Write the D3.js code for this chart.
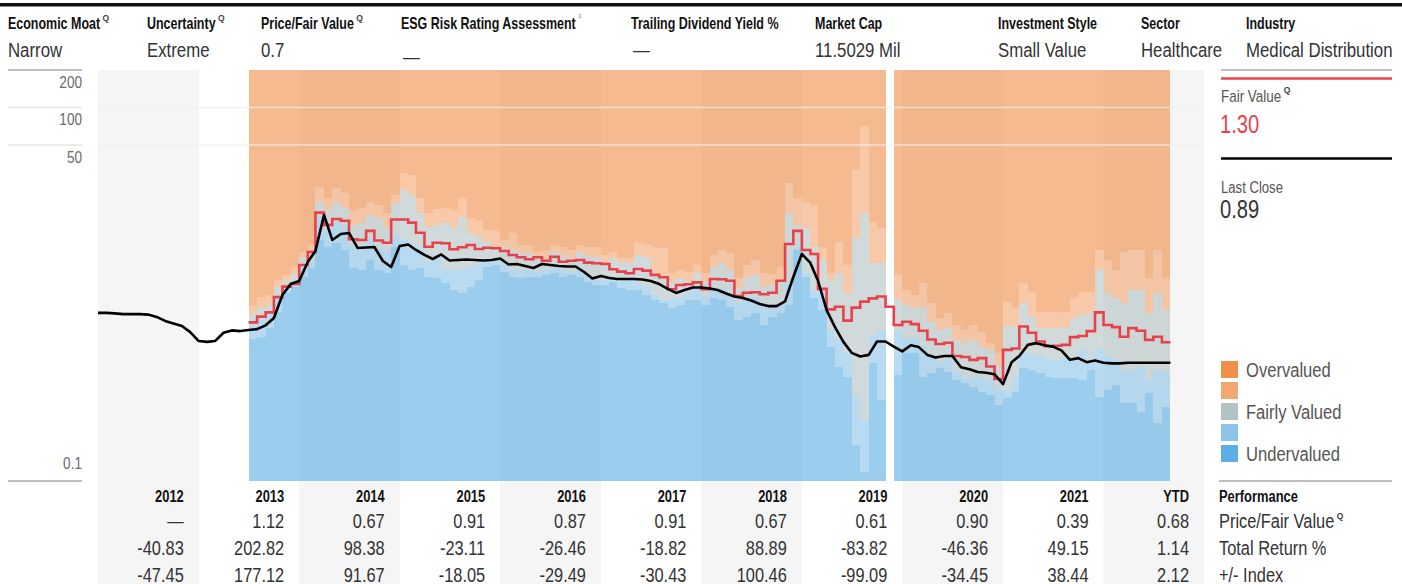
<!DOCTYPE html>
<html>
<head>
<meta charset="utf-8">
<script src="https://cdn.jsdelivr.net/npm/d3@7"></script>
<style>
  html, body { margin: 0; padding: 0; background: #fff; }
  svg { display: block; }
  text { font-family: "Liberation Sans", Arial, sans-serif; }
</style>
</head>
<body>
<svg id="chart" width="1402" height="584"></svg>
<script>
// header strip
const headerLabels = ["Economic Moat", "Uncertainty", "Price/Fair Value", "ESG Risk Rating Assessment",
  "Trailing Dividend Yield %", "Market Cap", "Investment Style", "Sector", "Industry"];
const headerValues = ["Narrow", "Extreme", "0.7", "\u2014", "\u2014", "11.5029 Mil", "Small Value", "Healthcare", "Medical Distribution"];
const headerMarks = ["Q", "Q", "Q", "1", "", "", "", "", ""];

// performance table
const years = ["2012", "2013", "2014", "2015", "2016", "2017", "2018", "2019", "2020", "2021", "YTD"];
const priceFairValue = ["\u2014", "1.12", "0.67", "0.91", "0.87", "0.91", "0.67", "0.61", "0.90", "0.39", "0.68"];
const totalReturn = ["-40.83", "202.82", "98.38", "-23.11", "-26.46", "-18.82", "88.89", "-83.82", "-46.36", "49.15", "1.14"];
const vsIndex = ["-47.45", "177.12", "91.67", "-18.05", "-29.49", "-30.43", "100.46", "-99.09", "-34.45", "38.44", "2.12"];
const rowLabels = ["Price/Fair Value", "Total Return %", "+/- Index"];

const yTicks = [200, 100, 50, 0.1];
const legendLabels = ["Overvalued", "", "Fairly Valued", "", "Undervalued"];

// monthly close, from Jan 2012
const priceStart = "2012-01";
const closePrice = [
  2.24, 2.24, 2.22, 2.19, 2.19, 2.19, 2.17, 2.08, 1.93, 1.84, 1.76, 1.57,
  1.33, 1.31, 1.33, 1.55, 1.62, 1.60, 1.63, 1.66, 1.78, 2.04, 3.12, 3.82,
  4.04, 5.74, 7.04, 13.7, 8.63, 9.64, 9.82, 7.44, 7.51, 7.58, 5.85, 5.23,
  7.72, 7.94, 7.17, 6.54, 6.07, 6.60, 5.90, 5.96, 6.01, 5.96, 5.90, 5.96,
  6.13, 5.48, 5.53, 5.33, 5.14, 5.53, 5.43, 5.33, 5.28, 5.28, 4.77, 4.23,
  4.43, 4.27, 4.19, 4.19, 4.19, 4.15, 4.04, 3.82, 3.49, 3.24, 3.42, 3.58,
  3.58, 3.52, 3.42, 3.21, 3.03, 2.95, 2.82, 2.64, 2.54, 2.54, 2.77, 4.35,
  6.66, 5.64, 4.04, 2.36, 1.73, 1.31, 1.07, 1.00, 1.03, 1.32, 1.32, 1.20,
  1.10, 1.23, 1.19, 1.03, 0.98, 1.01, 1.01, 0.82, 0.79, 0.75, 0.74, 0.72,
  0.60, 0.90, 1.01, 1.24, 1.28, 1.23, 1.20, 1.12, 0.94, 0.97, 0.90, 0.93,
  0.89, 0.88, 0.88, 0.89, 0.89, 0.89, 0.89, 0.89, 0.89
];

// monthly fair value and star-price thresholds, from Jul 2013 (no band for Nov 2019)
const fairStart = "2013-07";
const fairValue = [
  1.88, 2.09, 2.26, 3.00, 3.64, 3.82, 5.43, 6.91, 14.3, 11.4, 12.7, 12.3,
  8.74, 8.63, 10.2, 8.55, 8.20, 12.6, 12.6, 11.9, 9.87, 7.62, 8.20, 8.11,
  7.26, 7.54, 7.86, 7.30, 7.48, 7.40, 7.04, 6.54, 6.26, 6.04, 6.26, 5.88,
  6.33, 5.77, 5.88, 5.96, 5.67, 5.61, 5.53, 5.02, 4.80, 4.66, 5.04, 4.89,
  4.52, 4.33, 3.47, 3.75, 3.80, 3.94, 3.47, 4.19, 4.17, 4.06, 3.06, 3.25,
  3.28, 3.16, 3.25, 4.06, 8.01, 10.2, 7.17, 6.66, 3.49, 2.39, 2.51, 1.94,
  2.47, 2.76, 2.93, 3.03, 2.51, 1.79, 1.90, 1.82, 1.61, 1.37, 1.26, 1.29,
  1.01, 0.99, 0.94, 0.97, 0.83, 0.66, 1.13, 1.16, 1.74, 1.55, 1.32, 1.21,
  1.22, 1.24, 1.43, 1.46, 1.60, 2.26, 1.79, 1.72, 1.44, 1.69, 1.61, 1.36, 1.44, 1.30
];
const oneStar = [
  2.55, 3.02, 3.12, 4.12, 4.52, 5.21, 6.95, 7.86, 23.1, 18.7, 22.4, 20.5,
  15.0, 15.5, 17.5, 16.5, 14.1, 19.8, 29.6, 28.7, 18.7, 14.1, 15.2, 15.5,
  15.0, 18.7, 12.9, 12.5, 10.4, 10.1, 8.63, 9.76, 7.86, 7.86, 6.95, 7.17,
  7.86, 7.62, 7.17, 7.86, 7.62, 7.62, 6.54, 6.95, 6.15, 6.15, 8.36, 8.01,
  7.62, 7.40, 4.66, 4.95, 4.80, 5.43, 4.71, 6.54, 7.17, 6.74, 4.25, 5.43,
  5.96, 4.66, 4.60, 5.26, 24.6, 18.7, 17.5, 16.5, 7.62, 4.66, 8.36, 5.43,
  31.5, 71.4, 12.1, 10.7, null, 4.52, 3.42, 3.12, 3.89, 2.69, 2.04, 2.24,
  1.79, 1.63, 1.79, 1.57, 1.28, 1.07, 2.74, 2.45, 3.89, 3.30, 2.28, 2.28,
  2.28, 2.28, 2.95, 3.30, 3.30, 7.17, 5.96, 4.95, 6.91, 7.17, 7.17, 4.27, 7.17, 4.27
];
const twoStar = [
  2.18, 2.44, 2.59, 3.60, 4.12, 4.57, 6.26, 6.95, 17.5, 15.0, 17.0, 15.5,
  11.4, 11.7, 13.7, 12.9, 11.0, 17.0, 21.7, 19.8, 14.1, 11.0, 11.4, 11.7,
  10.7, 13.3, 9.76, 9.17, 8.36, 7.62, 7.62, 7.17, 6.74, 6.74, 6.15, 6.04,
  6.95, 6.54, 6.15, 6.95, 6.42, 6.33, 5.61, 6.15, 5.77, 5.61, 6.54, 6.33,
  4.66, 4.38, 3.99, 4.25, 3.99, 4.66, 3.99, 5.26, 5.61, 4.95, 3.53, 4.38,
  4.52, 3.64, 3.75, 4.12, 14.1, 11.4, 10.7, 7.62, 5.96, 4.12, 4.66, 3.22,
  8.90, 14.1, 5.61, 5.61, null, 2.84, 2.59, 2.45, 2.50, 1.89, 1.63, 1.69,
  1.36, 1.28, 1.36, 1.19, 1.13, 0.85, 1.76, 1.73, 2.69, 2.08, 1.69, 1.69,
  1.69, 1.73, 2.04, 2.15, 2.24, 4.95, 3.24, 2.95, 2.69, 3.42, 3.42, 2.24, 3.24, 2.36
];
const fourStar = [
  1.74, 1.96, 2.22, 2.93, 3.42, 3.99, 5.21, 5.77, 13.3, 10.1, 11.7, 11.0,
  7.62, 7.17, 8.90, 7.40, 6.95, 9.46, 8.63, 7.86, 7.62, 5.77, 6.54, 4.95,
  4.95, 4.95, 5.26, 5.61, 5.96, 5.96, 5.43, 4.95, 4.95, 4.95, 4.80, 4.95,
  5.11, 4.95, 4.80, 4.95, 4.38, 4.12, 4.12, 4.38, 3.99, 4.12, 3.92, 3.64,
  3.12, 2.84, 2.84, 3.02, 3.32, 3.53, 3.02, 3.42, 3.53, 3.22, 2.68, 3.02,
  3.02, 2.51, 2.59, 2.68, 3.99, 7.62, 4.66, 3.42, 3.22, 1.63, 1.36, 1.06,
  0.49, 0.31, 1.49, 1.63, null, 1.63, 1.41, 1.41, 1.19, 1.00, 0.90, 0.94,
  0.75, 0.67, 0.68, 0.68, 0.65, 0.54, 0.54, 0.68, 1.07, 1.03, 1.00, 0.94,
  0.94, 0.97, 0.97, 1.13, 0.90, 1.13, 1.00, 0.94, 0.78, 0.78, 0.82, 0.65, 0.78, 0.74
];
const fiveStar = [
  1.38, 1.44, 1.69, 2.29, 3.22, 3.64, 4.38, 5.11, 8.63, 7.62, 8.11, 7.17,
  5.11, 4.95, 5.96, 4.95, 4.66, 7.62, 5.43, 4.95, 5.11, 4.38, 4.25, 3.87,
  3.42, 3.22, 3.64, 4.12, 5.26, 5.43, 4.80, 4.38, 4.25, 4.38, 4.38, 4.52,
  4.66, 4.38, 4.52, 4.38, 3.99, 3.75, 3.75, 3.99, 3.53, 3.42, 3.42, 3.12,
  2.84, 2.68, 2.44, 2.59, 2.84, 2.84, 2.59, 2.93, 2.84, 2.51, 1.96, 2.09,
  2.22, 1.79, 2.09, 2.22, 2.59, 7.17, 4.38, 2.93, 2.36, 1.20, 0.83, 0.69,
  0.195, 0.118, 0.88, 0.45, null, 0.71, 1.07, 1.07, 0.68, 0.74, 0.81, 0.75,
  0.65, 0.61, 0.57, 0.52, 0.49, 0.41, 0.46, 0.52, 0.81, 0.78, 0.74, 0.68,
  0.67, 0.67, 0.67, 0.65, 0.78, 0.47, 0.54, 0.59, 0.42, 0.42, 0.36, 0.51, 0.29, 0.39
];

const bandColors = ["#5caee3", "#8cc5ea", "#b3c3c3", "#f2a874", "#ef8f4a"];
const legendColors = ["#ef8f4a", "#f2a874", "#b3c3c3", "#8cc5ea", "#5caee3"];
const fvColor = "#e8414b";

const svg = d3.select("#chart");
const parseMonth = d3.timeParse("%Y-%m");
const monthDate = (start, i) => d3.timeMonth.offset(parseMonth(start), i);

const x = d3.scaleTime()
  .domain([new Date(2012, 0, 1), new Date(2023, 0, 1)])
  .range([98, 1204]);
const y = d3.scaleLog().domain([0.1, 200]).range([481, 70]);

// condensed-looking text: squeeze a regular face horizontally
function label(g, str, px, py, o = {}) {
  const sx = o.sx == null ? 0.8 : o.sx;
  const t = g.append("text")
    .attr("transform", `translate(${px},${py}) scale(${sx},1)`)
    .attr("text-anchor", o.anchor || "start")
    .attr("font-size", o.size || 16)
    .attr("font-weight", o.weight || "normal")
    .attr("fill", o.fill || "#333")
    .text(str);
  t.datum({ px: px, py: py, sx: sx });
  return t;
}

// small superscript after a text
function addMark(g, t, mark, size, dy, fill) {
  if (!mark) return;
  const d = t.datum();
  const w = t.node().getComputedTextLength() * d.sx;
  g.append("text")
    .attr("x", d.px + w + 2.5)
    .attr("y", d.py + dy)
    .attr("font-size", size)
    .attr("font-weight", "bold")
    .attr("fill", fill || "#555")
    .text(mark);
}

// column shading (every other year)
const yearStarts = d3.range(2012, 2024).map(yr => new Date(yr, 0, 1));
svg.append("g").selectAll("rect")
  .data(years.map((d, i) => i).filter(i => i % 2 === 0))
  .join("rect")
  .attr("x", i => x(yearStarts[i]))
  .attr("width", i => x(yearStarts[i + 1]) - x(yearStarts[i]))
  .attr("y", 70)
  .attr("height", 584 - 70)
  .attr("fill", "#f5f5f5");

// valuation bands
const bandData = fairValue.map((v, i) => ({
  start: monthDate(fairStart, i),
  end: monthDate(fairStart, i + 1),
  levels: fiveStar[i] == null ? null : [0.1, fiveStar[i], fourStar[i], twoStar[i], oneStar[i], 200]
})).filter(d => d.levels);

const bandG = svg.append("g").attr("shape-rendering", "crispEdges");
bandData.forEach(d => {
  for (let k = 0; k < 5; k++) {
    bandG.append("rect")
      .attr("x", x(d.start))
      .attr("width", x(d.end) - x(d.start))
      .attr("y", y(d.levels[k + 1]))
      .attr("height", y(d.levels[k]) - y(d.levels[k + 1]))
      .attr("fill", bandColors[k])
      .attr("fill-opacity", 0.62);
  }
});

// grid lines
svg.append("g").selectAll("line")
  .data(yTicks.filter(t => t !== 200 && t !== 0.1))
  .join("line")
  .attr("x1", 98).attr("x2", 1204)
  .attr("y1", d => y(d)).attr("y2", d => y(d))
  .attr("stroke", "#efefef").attr("stroke-opacity", 0.75).attr("stroke-width", 1.5);

// y axis
const axisG = svg.append("g");
axisG.selectAll("line")
  .data(yTicks)
  .join("line")
  .attr("x1", 8).attr("x2", 82)
  .attr("y1", d => y(d)).attr("y2", d => y(d))
  .attr("stroke", d => (d === 200 || d === 0.1) ? "#aaa" : "#e6e6e6")
  .attr("stroke-width", 1.5);
yTicks.forEach(d => {
  label(axisG, d3.format("~g")(d), 82, d === 0.1 ? y(d) - 12 : y(d) + 18,
    { anchor: "end", size: 17, fill: "#6b6b6b", sx: 0.8 });
});

// fair value step line
const fvPoints = fairValue.map((v, i) => [monthDate(fairStart, i), v]);
fvPoints.push([monthDate(fairStart, fairValue.length), fairValue[fairValue.length - 1]]);
svg.append("path")
  .datum(fvPoints)
  .attr("fill", "none")
  .attr("stroke", fvColor)
  .attr("stroke-width", 2.6)
  .attr("d", d3.line().curve(d3.curveStepAfter).x(d => x(d[0])).y(d => y(d[1])));

// price line
svg.append("path")
  .datum(closePrice.map((v, i) => [monthDate(priceStart, i), v]))
  .attr("fill", "none")
  .attr("stroke", "#000")
  .attr("stroke-width", 2.6)
  .attr("stroke-linejoin", "round")
  .attr("d", d3.line().x(d => x(d[0])).y(d => y(d[1])));

// header
svg.append("rect").attr("x", 0).attr("y", 3).attr("width", 1402).attr("height", 3.5).attr("fill", "#111");
const headerX = [8, 147, 261, 401, 631, 815, 998, 1141, 1246];
const headerG = svg.append("g");
headerLabels.forEach((lab, i) => {
  const t = label(headerG, lab, headerX[i], 29, { size: 16, weight: "bold", fill: "#111", sx: 0.78 });
  if (headerMarks[i] === "Q") addMark(headerG, t, "Q", 8.5, -8, "#444");
  if (headerMarks[i] === "1") addMark(headerG, t, "1", 6, -11, "#999");
  const isDash = headerValues[i] === "\u2014";
  label(headerG, headerValues[i], headerX[i] + (isDash ? 2 : 0), i === 3 ? 64 : 57,
    { size: 21, fill: "#333", sx: 0.8 });
});

// table
const tableG = svg.append("g");
years.forEach((yr, i) => {
  const right = x(yearStarts[i + 1]) - 15;
  label(tableG, yr, right, 502, { anchor: "end", size: 17, weight: "bold", fill: "#111", sx: 0.76 });
  [priceFairValue, totalReturn, vsIndex].forEach((row, r) => {
    label(tableG, row[i], right, 528 + r * 27, { anchor: "end", size: 21, fill: "#333", sx: 0.78 });
  });
});
label(tableG, "Performance", 1219, 502, { size: 17, weight: "bold", fill: "#111", sx: 0.76 });
rowLabels.forEach((lab, r) => {
  const t = label(tableG, lab, 1219, 528 + r * 27, { size: 21, fill: "#333", sx: 0.78 });
  if (r === 0) addMark(tableG, t, "Q", 8.5, -9, "#444");
});

// legend
const legG = svg.append("g");
legG.append("line").attr("x1", 1221).attr("x2", 1392).attr("y1", 70).attr("y2", 70).attr("stroke", "#aaa").attr("stroke-width", 1.5);
legG.append("line").attr("x1", 1221).attr("x2", 1392).attr("y1", 78.5).attr("y2", 78.5).attr("stroke", fvColor).attr("stroke-width", 2.5);
const fvt = label(legG, "Fair Value", 1221, 102, { size: 16, fill: "#555", sx: 0.84 });
addMark(legG, fvt, "Q", 8.5, -9, "#444");
label(legG, d3.format(".2f")(fairValue[fairValue.length - 1]), 1220, 133, { size: 25.5, fill: fvColor, sx: 0.79 });
legG.append("line").attr("x1", 1221).attr("x2", 1392).attr("y1", 158.5).attr("y2", 158.5).attr("stroke", "#000").attr("stroke-width", 2.5);
label(legG, "Last Close", 1221, 193, { size: 16, fill: "#555", sx: 0.82 });
label(legG, d3.format(".2f")(closePrice[closePrice.length - 1]), 1220, 218, { size: 25.5, fill: "#333", sx: 0.79 });
legendColors.forEach((c, k) => {
  legG.append("rect").attr("x", 1221).attr("y", 361 + k * 21).attr("width", 17).attr("height", 17).attr("fill", c);
  if (legendLabels[k]) {
    label(legG, legendLabels[k], 1246, 377 + k * 21, { size: 21, fill: "#555", sx: 0.79 });
  }
});
legG.append("line").attr("x1", 1219).attr("x2", 1392).attr("y1", 481).attr("y2", 481).attr("stroke", "#aaa").attr("stroke-width", 1.5);
</script>
</body>
</html>
